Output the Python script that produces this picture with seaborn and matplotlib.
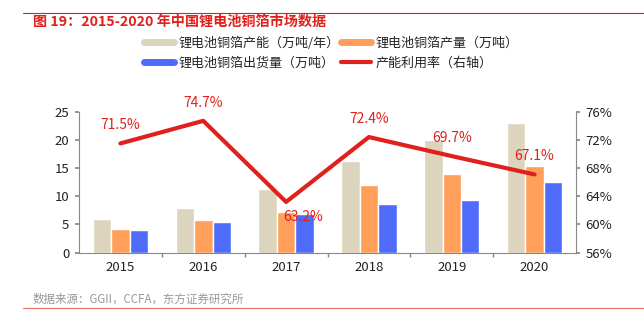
import numpy as np
import pandas as pd
import matplotlib
matplotlib.use("Agg")
import matplotlib.pyplot as plt
from matplotlib.lines import Line2D
from matplotlib.ticker import FixedLocator
import seaborn as sns

years = ["2015", "2016", "2017", "2018", "2019", "2020"]
capacity = [5.9, 7.9, 11.35, 16.3, 20.0, 23.0]
production = [4.15, 5.85, 7.15, 11.95, 13.9, 15.4]
shipment = [4.1, 5.4, 6.8, 8.6, 9.35, 12.55]
utilization = [71.5, 74.7, 63.2, 72.4, 69.7, 67.1]
series_names = ["锂电池铜箔产能（万吨/年）", "锂电池铜箔产量（万吨）", "锂电池铜箔出货量（万吨）"]
line_name = "产能利用率（右轴）"
title = "图 19：2015-2020 年中国锂电池铜箔市场数据"
source = "数据来源：GGII，CCFA，东方证券研究所"

colors = ["#DDD4BE", "#FF9F5A", "#4F6BFA"]
red = "#E0201C"

sns.set_theme(style="white")
plt.rcParams['font.family'] = ['Noto Sans CJK SC', 'DejaVu Sans']

df = pd.DataFrame({
    "year": years * 3,
    "value": capacity + production + shipment,
    "series": [series_names[0]] * 6 + [series_names[1]] * 6 + [series_names[2]] * 6,
})

fig = plt.figure(figsize=(6.44, 3.21), dpi=100)
ax = fig.add_axes([0.1227, 0.2128, 0.7717, 0.4393])

sns.barplot(data=df, x="year", y="value", hue="series", palette=colors,
            width=0.67, ax=ax, legend=False, saturation=1)
ax.set_xlim(-0.5, 5.5)
ax.set_ylim(0, 25)
ax.set_yticks([0, 5, 10, 15, 20, 25])
ax.set_xlabel("")
ax.set_ylabel("")
ax.tick_params(axis="both", labelsize=9.5, colors="#222222", length=0)
ax.tick_params(axis="y", left=True, length=3, color="#888888", pad=4)
ax.xaxis.set_minor_locator(FixedLocator([0.5, 1.5, 2.5, 3.5, 4.5]))
ax.tick_params(axis="x", which="minor", bottom=True, length=3, color="#888888")
ax.tick_params(axis="x", pad=6)

ax2 = ax.twinx()
sns.lineplot(x=np.arange(6), y=utilization, ax=ax2, color=red, lw=3, sort=False)
ax2.set_ylim(56, 76)
ax2.set_yticks([56, 60, 64, 68, 72, 76])
ax2.set_yticklabels([f"{v}%" for v in [56, 60, 64, 68, 72, 76]])
ax2.tick_params(axis="y", labelsize=9.5, colors="#222222", right=True, length=3, color="#888888", pad=4)

for a in (ax, ax2):
    a.spines["top"].set_visible(False)
    for s in ["left", "right", "bottom"]:
        a.spines[s].set_color("#888888")
        a.spines[s].set_linewidth(0.8)
ax.spines["right"].set_visible(False)
ax2.spines["left"].set_visible(False)
ax2.spines["bottom"].set_visible(False)

for i, v in enumerate(utilization):
    if i == 2:
        ax2.annotate(f"{v}%", (i, v), xytext=(12, -11), textcoords="offset points",
                     ha="center", va="center", color=red, fontsize=10)
    else:
        ax2.annotate(f"{v}%", (i, v), xytext=(0, 13), textcoords="offset points",
                     ha="center", va="center", color=red, fontsize=10)

handles = [Line2D([], [], color=colors[0], lw=5),
           Line2D([], [], color=colors[2], lw=5),
           Line2D([], [], color=colors[1], lw=5),
           Line2D([], [], color=red, lw=3)]
labels = [series_names[0], series_names[2], series_names[1], line_name]
fig.legend(handles, labels, ncol=2, loc="upper left", bbox_to_anchor=(0.216, 0.903),
           frameon=False, fontsize=9.4, handlelength=2.3, handletextpad=0.35,
           columnspacing=0.1, labelspacing=0.55, borderaxespad=0)

fig.text(33 / 644, 1 - 22 / 321, title, color=red, fontsize=10.2, fontweight="bold",
         ha="left", va="center")
fig.add_artist(Line2D([23 / 644, 1.0], [1 - 13 / 321, 1 - 13 / 321], color=red, lw=0.8,
                      transform=fig.transFigure))
fig.text(33 / 644, 1 - 299 / 321, source, color="#999999", fontsize=8.3,
         ha="left", va="center")
fig.add_artist(Line2D([23 / 644, 1.0], [1 - 308 / 321, 1 - 308 / 321], color="#F07060", lw=0.8,
                      transform=fig.transFigure))

fig.savefig("out.png", dpi=100)
